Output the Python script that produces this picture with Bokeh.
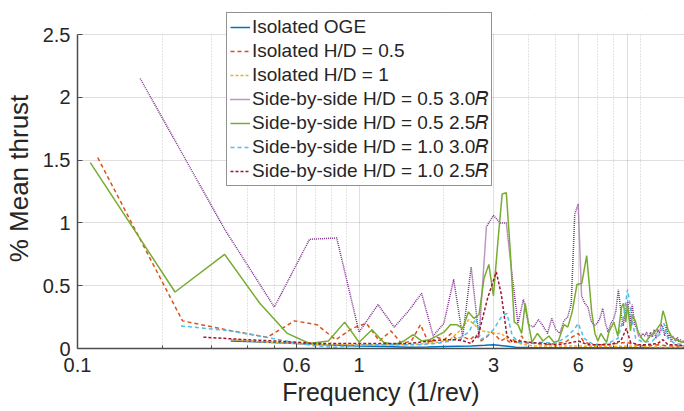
from bokeh.plotting import figure
from bokeh.models import FixedTicker, Legend, LegendItem, Range1d, BoxAnnotation
from bokeh.embed import file_html
from bokeh.resources import INLINE

# Axis ticks
x_ticks = [0.1, 0.6, 1, 3, 6, 9]
x_minor = [0.2, 0.3, 0.4, 0.5, 0.7, 0.8, 0.9, 2, 4, 5, 7, 8, 10]
y_ticks = [0, 0.5, 1, 1.5, 2, 2.5]
y_top = 2.5          # top of the plotted axes
y_view_top = 2.708   # extra head-room above the axes for the legend

# Isolated OGE
oge_f = [0.35, 0.47, 0.6, 0.75, 1.0, 1.25, 1.5, 1.75, 2.0, 2.5, 2.8, 3.0, 3.3, 3.6, 4.0, 5.0, 6.0, 8.0, 10.0, 12.0, 14.3]
oge_v = [0.06, 0.05, 0.04, 0.03, 0.02, 0.015, 0.01, 0.012, 0.015, 0.02, 0.025, 0.03, 0.02, 0.01, 0.008, 0.006, 0.006, 0.005, 0.005, 0.004, 0.004]

# Isolated H/D = 0.5
iso05_f = [0.118, 0.236, 0.354, 0.472, 0.59, 0.708, 0.826, 0.944, 1.062, 1.18, 1.298, 1.416, 1.534,
           1.652, 1.77, 1.888, 2.006, 2.124, 2.242, 2.36, 2.478, 2.596, 2.714, 2.832, 2.95, 3.068,
           3.186, 3.304, 3.422, 3.54, 3.658, 3.776, 3.894, 4.2, 4.6, 5.0, 5.4, 5.7, 6.0, 6.3, 6.8,
           7.5, 8.2, 8.9, 9.5, 10.5, 11.5, 12.5, 13.5, 14.3]
iso05_v = [1.52, 0.22, 0.14, 0.09, 0.22, 0.19, 0.07, 0.16, 0.20, 0.06, 0.14, 0.04, 0.06,
           0.19, 0.04, 0.09, 0.07, 0.12, 0.06, 0.09, 0.07, 0.11, 0.06, 0.09, 0.13, 0.10,
           0.06, 0.08, 0.05, 0.07, 0.04, 0.10, 0.05, 0.04, 0.03, 0.04, 0.05, 0.09, 0.12, 0.05, 0.03,
           0.03, 0.04, 0.05, 0.03, 0.02, 0.03, 0.02, 0.02, 0.02]

# Isolated H/D = 1
iso1_f = [0.35, 0.47, 0.59, 0.7, 0.85, 1.0, 1.25, 1.5, 1.75, 1.9, 2.1, 2.3, 2.45, 2.6, 2.75,
          2.9, 3.05, 3.2, 3.35, 3.5, 3.7, 3.9, 4.2, 5.0, 6.0, 7.0, 8.0, 9.0, 10.0, 12.0, 14.3]
iso1_v = [0.07, 0.05, 0.04, 0.03, 0.03, 0.03, 0.03, 0.03, 0.04, 0.05, 0.07, 0.15, 0.23, 0.18, 0.14,
          0.13, 0.12, 0.12, 0.08, 0.06, 0.04, 0.03, 0.02, 0.02, 0.02, 0.015, 0.015, 0.02, 0.015, 0.01, 0.01]

# Side-by-side H/D = 0.5, 3.0R
s05_30_f = [0.167, 0.333, 0.5, 0.667, 0.833, 1.0, 1.167, 1.333, 1.5, 1.667, 1.833, 2.0, 2.167,
            2.333, 2.5, 2.667, 2.833, 3.0, 3.167, 3.333, 3.5, 3.667, 3.833, 4.0, 4.167, 4.333,
            4.5, 4.667, 4.833, 5.0, 5.167, 5.333, 5.5, 5.667, 5.833, 6.0, 6.167, 6.333, 6.5,
            6.667, 6.833, 7.0, 7.167, 7.333, 7.5, 7.667, 7.833, 8.0, 8.167, 8.333, 8.5, 8.667,
            8.833, 9.0, 9.167, 9.333, 9.5, 9.667, 9.833, 10.0, 10.167, 10.333, 10.5, 10.667,
            10.833, 11.0, 11.167, 11.333, 11.5, 11.667, 11.833, 12.0, 12.167, 12.333, 12.5,
            12.667, 12.833, 13.0, 13.167, 13.333, 13.5, 13.667, 13.833, 14.0, 14.167, 14.333]
s05_30_v = [2.15, 0.95, 0.33, 0.87, 0.88, 0.13, 0.35, 0.17, 0.30, 0.44, 0.10, 0.20, 0.55,
            0.09, 0.65, 0.09, 0.97, 1.06, 1.00, 1.00, 0.57, 0.20, 0.39, 0.19, 0.17, 0.23,
            0.18, 0.12, 0.24, 0.15, 0.12, 0.22, 0.25, 0.35, 1.07, 1.15, 0.42, 0.36, 0.33,
            0.22, 0.18, 0.20, 0.24, 0.32, 0.20, 0.13, 0.20, 0.23, 0.30, 0.47, 0.30, 0.18,
            0.30, 0.38, 0.20, 0.35, 0.20, 0.16, 0.10, 0.09, 0.12, 0.10, 0.13, 0.08,
            0.13, 0.09, 0.15, 0.08, 0.15, 0.12, 0.19, 0.17, 0.10, 0.19, 0.08,
            0.12, 0.05, 0.10, 0.07, 0.06, 0.09, 0.05, 0.07, 0.06, 0.05, 0.06]

# Side-by-side H/D = 0.5, 2.5R
s05_25_f = [0.111, 0.222, 0.333, 0.444, 0.556, 0.667, 0.778, 0.889, 1.0, 1.111, 1.222, 1.333,
            1.444, 1.556, 1.667, 1.778, 1.889, 2.0, 2.111, 2.222, 2.333, 2.444, 2.556, 2.667,
            2.778, 2.889, 3.0, 3.111, 3.222, 3.333, 3.444, 3.556, 3.667, 3.778, 3.889, 4.0,
            4.111, 4.3, 4.5, 4.72, 4.92, 5.1, 5.34, 5.51, 5.71, 5.94, 6.18, 6.43, 6.57, 6.7,
            6.88, 7.05, 7.22, 7.4, 7.57, 7.71, 8.03, 8.3, 8.55, 8.69, 8.85, 8.98, 9.2, 9.35,
            9.6, 9.8, 10.1, 10.4, 10.8, 11.3, 11.8, 12.0, 12.2, 12.5, 12.9, 13.4, 14.0, 14.3]
s05_25_v = [1.48, 0.45, 0.75, 0.36, 0.12, 0.04, 0.06, 0.21, 0.05, 0.15, 0.05, 0.03,
            0.06, 0.11, 0.06, 0.07, 0.10, 0.13, 0.19, 0.19, 0.16, 0.29, 0.24, 0.27,
            0.56, 0.67, 0.42, 0.85, 1.23, 1.24, 0.77, 0.21, 0.19, 0.12, 0.36, 0.19,
            0.05, 0.12, 0.06, 0.10, 0.05, 0.06, 0.19, 0.17, 0.29, 0.51, 0.52, 0.74, 0.51, 0.29,
            0.12, 0.06, 0.12, 0.08, 0.05, 0.13, 0.21, 0.10, 0.33, 0.36, 0.21, 0.35, 0.14, 0.27,
            0.21, 0.13, 0.08, 0.05, 0.10, 0.14, 0.20, 0.30, 0.25, 0.15, 0.09, 0.07, 0.05, 0.06]

# Side-by-side H/D = 1.0, 3.0R
s10_30_f = [0.233, 0.35, 0.467, 0.583, 0.7, 0.817, 0.933, 1.05, 1.3, 1.6, 1.9, 2.1, 2.3, 2.45,
            2.6, 2.7, 2.85, 3.0, 3.2, 3.35, 3.5, 3.7, 4.0, 4.5, 5.0, 5.5, 5.8, 6.0, 6.3, 6.7, 7.2,
            7.8, 8.3, 8.7, 8.98, 9.15, 9.35, 9.6, 10.2, 11.0, 11.8, 12.1, 12.5, 13.2, 14.3]
s10_30_v = [0.18, 0.14, 0.09, 0.05, 0.02, 0.01, 0.02, 0.03, 0.03, 0.03, 0.04, 0.06, 0.09, 0.13,
            0.24, 0.07, 0.10, 0.15, 0.25, 0.28, 0.10, 0.05, 0.04, 0.05, 0.04, 0.10, 0.15, 0.20, 0.08,
            0.04, 0.03, 0.05, 0.08, 0.25, 0.47, 0.36, 0.21, 0.08, 0.05, 0.06, 0.12, 0.20, 0.08, 0.04, 0.03]

# Side-by-side H/D = 1.0, 2.5R
s10_25_f = [0.28, 0.4, 0.5, 0.6, 0.7, 0.8, 1.0, 1.2, 1.5, 1.8, 2.0, 2.2, 2.35, 2.5, 2.66, 2.86,
            3.07, 3.2, 3.35, 3.5, 3.7, 4.0, 4.5, 5.0, 5.5, 6.0, 6.5, 7.0, 7.8, 8.5, 8.9, 9.2,
            9.8, 10.5, 11.5, 12.0, 12.5, 13.2, 14.3]
s10_25_v = [0.09, 0.07, 0.06, 0.05, 0.04, 0.04, 0.04, 0.04, 0.04, 0.06, 0.07, 0.07, 0.06, 0.04,
            0.12, 0.40, 0.61, 0.43, 0.10, 0.05, 0.06, 0.05, 0.04, 0.03, 0.04, 0.06, 0.03, 0.03,
            0.03, 0.06, 0.16, 0.05, 0.03, 0.03, 0.04, 0.07, 0.03, 0.03, 0.02]

labels = [
    "Isolated OGE",
    "Isolated H/D = 0.5",
    "Isolated H/D = 1",
    "Side-by-side H/D = 0.5 3.0\U0001D445",
    "Side-by-side H/D = 0.5 2.5\U0001D445",
    "Side-by-side H/D = 1.0 3.0\U0001D445",
    "Side-by-side H/D = 1.0 2.5\U0001D445",
]

series = [
    (oge_f, oge_v, "#0072BD", 1.5, "solid"),
    (iso05_f, iso05_v, "#D95319", 1.5, "4 3"),
    (iso1_f, iso1_v, "#EDB120", 1.5, "3 2"),
    (s05_30_f, s05_30_v, "#7E2F8E", 1.5, "1 1"),
    (s05_25_f, s05_25_v, "#77AC30", 1.5, "solid"),
    (s10_30_f, s10_30_v, "#4DBEEE", 1.5, "4 3"),
    (s10_25_f, s10_25_v, "#A2142F", 1.5, "3 2"),
]

FONT = "Liberation Sans"
INK = "#262626"
AXIS = "#4d4d4d"

p = figure(width=684, height=411, x_axis_type="log",
           x_range=Range1d(0.1, 14.31), y_range=Range1d(0, y_view_top),
           output_backend="svg", toolbar_location=None,
           min_border_left=75, min_border_right=0, min_border_top=8, min_border_bottom=63)
p.outline_line_color = None
p.background_fill_color = "white"
p.border_fill_color = "white"

items = []
for (fx, vy, color, lw, dash), lab in zip(series, labels):
    r = p.line(fx, vy, line_color=color, line_width=lw, line_dash=dash)
    items.append(LegendItem(label=lab, renderers=[r]))

# x axis
p.xaxis.ticker = FixedTicker(ticks=x_ticks, minor_ticks=x_minor)
p.xaxis.major_label_overrides = {t: str(t) for t in x_ticks}
p.xaxis.axis_label = "Frequency (1/rev)"
# y axis
p.yaxis.ticker = FixedTicker(ticks=y_ticks)
p.yaxis.major_label_overrides = {0: "0", 0.5: "0.5", 1: "1", 1.5: "1.5", 2: "2", 2.5: "2.5"}
p.yaxis.axis_label = "% Mean thrust"

for ax in (p.xaxis[0], p.yaxis[0]):
    ax.axis_line_color = AXIS
    ax.axis_line_width = 1.5
    ax.major_tick_in = 5
    ax.major_tick_out = 0
    ax.minor_tick_in = 3
    ax.minor_tick_out = 0
    ax.major_tick_line_color = AXIS
    ax.minor_tick_line_color = AXIS
    ax.major_label_text_font = FONT
    ax.major_label_text_font_size = "20px"
    ax.major_label_text_color = INK
    ax.axis_label_text_font = FONT
    ax.axis_label_text_font_style = "normal"
    ax.axis_label_text_color = INK
p.xaxis.axis_label_text_font_size = "25px"
p.yaxis.axis_label_text_font_size = "26px"
p.yaxis.minor_tick_line_color = None
p.yaxis.bounds = (0, y_top)
p.xaxis.major_label_standoff = 9
p.yaxis.major_label_standoff = 7
p.xaxis.axis_label_standoff = 3
p.yaxis.axis_label_standoff = 6

p.xgrid.grid_line_color = "#262626"
p.xgrid.grid_line_alpha = 0.15
p.xgrid.minor_grid_line_color = "#262626"
p.xgrid.minor_grid_line_alpha = 0.25
p.xgrid.minor_grid_line_dash = "1 2"
p.ygrid.grid_line_color = "#262626"
p.ygrid.grid_line_alpha = 0.15

# blank strip above the axes, behind the legend
p.add_layout(BoxAnnotation(bottom=y_top + 0.006, fill_color="white", fill_alpha=1,
                           line_color=None))

legend = Legend(items=items, location=(149, 162))
legend.label_text_font = FONT
legend.label_text_font_size = "19px"
legend.label_text_color = INK
legend.label_height = 20
legend.glyph_height = 20
legend.glyph_width = 20
legend.label_standoff = 2
legend.spacing = 2
legend.padding = 3
legend.margin = 0
legend.border_line_color = INK
legend.border_line_width = 1
legend.background_fill_alpha = 1
p.add_layout(legend)

open("out.html", "w").write(file_html(p, INLINE))
